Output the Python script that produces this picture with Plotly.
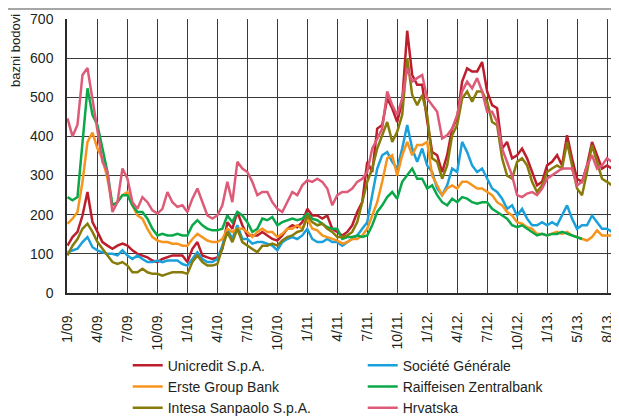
import plotly.graph_objects as go

# months since 1/09, sampled every half month
months = [i * 0.5 for i in range(111)]

tick_pos = [0, 3, 6, 9, 12, 15, 18, 21, 24, 27, 30, 33, 36, 39, 42, 45, 48, 51, 54]
tick_text = ["1/09.", "4/09.", "7/09.", "10/09.", "1/10.", "4/10.", "7/10.", "10/10.",
             "1/11.", "4/11.", "7/11.", "10/11.", "1/12.", "4/12.", "7/12.", "10/12.",
             "1/13.", "5/13.", "8/13."]

unicredit = [121, 143, 156, 198, 258, 181, 156, 130, 121, 113, 121, 126, 121, 109, 100, 96, 91, 83, 79,
             87, 91, 96, 96, 96, 79, 113, 130, 96, 91, 87, 91, 113, 181, 164, 207, 173, 147,
             147, 147, 156, 147, 138, 134, 147, 164, 173, 168, 181, 215, 198, 198, 190, 198, 164, 156,
             147, 156, 173, 207, 232, 335, 309, 420, 429, 497, 472, 437, 489, 670, 557, 532, 532, 440,
             360, 352, 309, 352, 420, 446, 540, 574, 566, 566, 590, 515, 480, 472, 369, 386, 344, 352,
             369, 344, 309, 275, 284, 326, 335, 352, 326, 403, 344, 292, 284, 326, 386, 352, 318, 326, 318, 309]

societe = [104, 109, 113, 130, 143, 117, 109, 104, 100, 100, 96, 109, 96, 87, 96, 87, 79, 79, 83,
           79, 83, 83, 83, 74, 70, 87, 104, 87, 79, 79, 87, 121, 164, 138, 173, 138, 138,
           126, 130, 130, 126, 121, 109, 130, 138, 143, 138, 147, 164, 138, 130, 130, 138, 130, 130,
           121, 130, 138, 147, 164, 181, 250, 318, 352, 360, 335, 318, 369, 429, 369, 335, 369, 326,
           309, 267, 250, 275, 318, 309, 386, 360, 326, 309, 318, 292, 267, 258, 241, 215, 224, 198,
           215, 190, 173, 173, 181, 173, 181, 173, 198, 224, 190, 164, 173, 173, 198, 181, 164, 164, 156, 151]

erste = [177, 190, 207, 284, 386, 410, 369, 344, 292, 224, 232, 250, 258, 224, 198, 190, 164, 143, 134,
         130, 130, 126, 126, 121, 121, 138, 151, 143, 134, 130, 130, 138, 164, 156, 164, 164, 156,
         143, 156, 164, 156, 156, 143, 151, 164, 164, 173, 164, 190, 164, 160, 147, 143, 138, 134,
         126, 130, 138, 138, 147, 164, 198, 232, 284, 344, 352, 300, 352, 386, 352, 378, 378, 386,
         300, 275, 250, 267, 275, 267, 284, 284, 275, 267, 267, 258, 250, 232, 224, 207, 198, 181,
         177, 168, 164, 151, 151, 147, 151, 156, 151, 156, 147, 143, 138, 134, 143, 160, 147, 147, 147, 147]

raiffeisen = [245, 237, 245, 386, 523, 455, 429, 369, 309, 224, 232, 250, 250, 224, 207, 207, 190, 164, 147,
              151, 147, 147, 151, 147, 147, 173, 186, 173, 164, 160, 160, 164, 198, 181, 207, 198, 181,
              156, 164, 190, 186, 194, 173, 181, 186, 190, 186, 190, 203, 190, 186, 177, 168, 164, 164,
              138, 143, 143, 147, 143, 147, 173, 207, 224, 245, 258, 241, 284, 300, 318, 292, 292, 267,
              275, 250, 232, 224, 241, 232, 245, 241, 232, 228, 232, 232, 215, 207, 198, 190, 173, 168,
              173, 164, 156, 147, 151, 147, 151, 151, 156, 151, 147, 143, 138,
              None, None, None, None, None, None, None]

intesa = [96, 121, 138, 164, 177, 156, 130, 113, 96, 79, 74, 79, 70, 53, 53, 62, 53, 49, 49,
          44, 49, 53, 53, 53, 49, 79, 96, 79, 70, 70, 74, 113, 156, 130, 164, 130, 121,
          113, 104, 121, 121, 126, 121, 134, 143, 147, 156, 160, 198, 181, 173, 177, 164, 156, 143,
          143, 147, 156, 181, 232, 284, 318, 369, 403, 437, 386, 412, 455, 600, 506, 480, 506, 455,
          344, 335, 292, 326, 403, 429, 497, 515, 489, 515, 515, 489, 437, 429, 344, 300, 292, 335,
          344, 326, 284, 258, 275, 309, 318, 326, 318, 386, 326, 267, 250, 309, 378, 335, 292, 284, 275, 275]

hrvatska = [446, 400, 430, 557, 575, 497, 420, 335, 309, 207, 232, 318, 292, 232, 215, 245, 232, 211, 203,
            215, 258, 232, 220, 224, 207, 241, 267, 232, 198, 190, 198, 224, 284, 232, 335, 318, 309,
            284, 250, 258, 258, 232, 215, 207, 232, 258, 250, 275, 288, 284, 292, 284, 267, 224, 250,
            258, 258, 267, 284, 292, 309, 369, 394, 420, 515, 480, 455, 497, 574, 540, 549, 557, 497,
            480, 463, 395, 403, 420, 455, 515, 540, 523, 549, 515, 463, 463, 437, 369, 335, 300, 250,
            245, 254, 258, 250, 267, 292, 300, 309, 318, 318, 318, 275, 284, 326, 352, 318, 326, 344, 335, 344]

names = ["Unicredit S.p.A.", "Société Générale", "Erste Group Bank",
         "Raiffeisen Zentralbank", "Intesa Sanpaolo S.p.A.", "Hrvatska"]
series = [unicredit, societe, erste, raiffeisen, intesa, hrvatska]
colors = ["#BD1E2D", "#1AA0DA", "#F7941D", "#0BA84A", "#877B0A", "#DE5B78"]

font = "Liberation Sans Narrow, Liberation Sans, Arial, sans-serif"

fig = go.Figure()
for name, vals, col in zip(names, series, colors):
    fig.add_trace(go.Scatter(x=months, y=vals, mode="lines", name=name,
                             line=dict(color=col, width=2.5)))

# page body has an 8px margin, so the figure is 8px smaller and shifted
fig.update_layout(
    width=611, height=409,
    margin=dict(l=59, r=0, t=11, b=124, autoexpand=False),
    plot_bgcolor="white", paper_bgcolor="white",
    font=dict(family=font, size=14, color="#231F20"),
    showlegend=True,
    legend=dict(orientation="h", x=0.11, y=-0.207, xanchor="left", yanchor="top",
                entrywidth=190, entrywidthmode="pixels",
                font=dict(size=14), bgcolor="rgba(0,0,0,0)"),
)
fig.update_xaxes(range=[-0.05, 55.2], tickmode="array", tickvals=tick_pos, ticktext=tick_text,
                 tickangle=-90, showgrid=True, gridcolor="#3a3a3a", gridwidth=1,
                 showline=True, linecolor="#2a2a2a", linewidth=2, zeroline=False,
                 ticks="", ticklabelstandoff=11, automargin=False)
fig.update_yaxes(range=[0, 700], dtick=100, showgrid=True, gridcolor="#3a3a3a", gridwidth=1,
                 showline=True, linecolor="#2a2a2a", linewidth=1.5, zeroline=False,
                 ticks="", ticklabelstandoff=9, automargin=False)

fig.add_annotation(text="bazni bodovi", xref="paper", yref="paper",
                   x=-0.0925, y=0.887, xanchor="center", yanchor="middle",
                   textangle=-90, showarrow=False,
                   font=dict(size=13, color="#231F20"))
# thin rule along the top of the page
fig.add_shape(type="line", xref="paper", yref="paper", x0=-0.109, x1=1.0,
              y0=1.0365, y1=1.0365, line=dict(color="#888", width=1.5))

fig.write_html("out.html")
